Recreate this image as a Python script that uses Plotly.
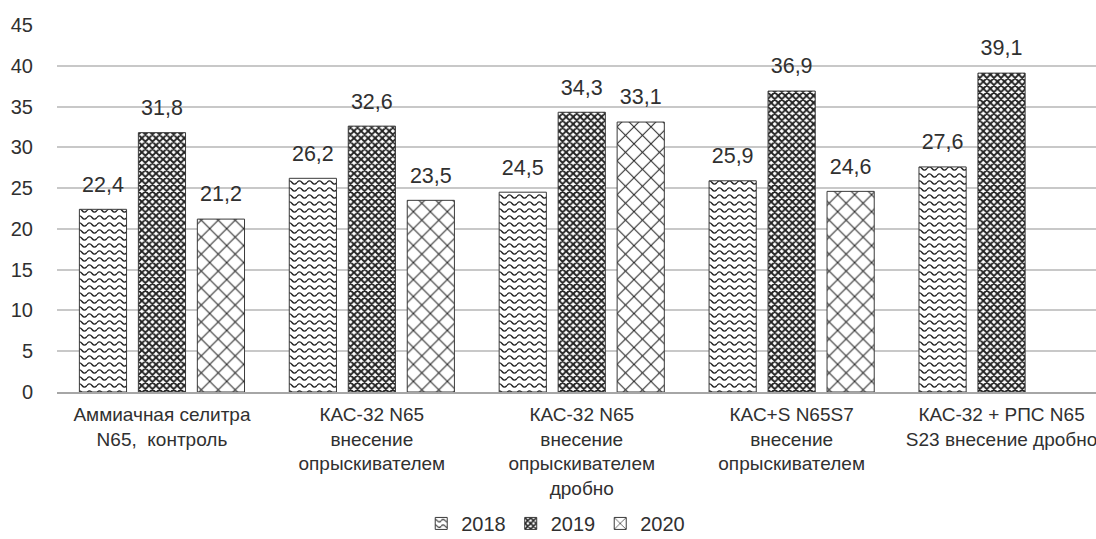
import plotly.graph_objects as go

# Yield by fertiliser treatment and year
categories = [
    "Аммиачная селитра<br>N65,  контроль",
    "КАС-32 N65<br>внесение<br>опрыскивателем",
    "КАС-32 N65<br>внесение<br>опрыскивателем<br>дробно",
    "КАС+S N65S7<br>внесение<br>опрыскивателем",
    "КАС-32 + РПС N65<br>S23 внесение дробно",
]
years = ["2018", "2019", "2020"]
values_2018 = [22.4, 26.2, 24.5, 25.9, 27.6]
values_2019 = [31.8, 32.6, 34.3, 36.9, 39.1]
values_2020 = [21.2, 23.5, 33.1, 24.6, None]
y_ticks = [0, 5, 10, 15, 20, 25, 30, 35, 40, 45]

series = [values_2018, values_2019, values_2020]
INK = "#303030"
FONT = "Liberation Sans, Arial, sans-serif"
GAP = 0.157

# fill patterns per series: (shape, size, solidity)
patterns = [
    ("-", 7, 0.2),     # re-drawn as waves by the page script below
    ("x", 5, 0.62),
    ("x", 12, 0.16),
]


def fmt(v):
    return "" if v is None else f"{v:.1f}".replace(".", ",")


fig = go.Figure()
xs = list(range(len(categories)))
for name, vals, (shape, size, sol) in zip(years, series, patterns):
    fig.add_trace(go.Bar(
        name=name, x=xs, y=vals, offsetgroup=name,
        hoverinfo="skip",
        marker=dict(
            color="white",
            line=dict(color="#3a3a3a", width=1),
            pattern=dict(shape=shape, size=size, solidity=sol,
                         fgcolor="#222222", bgcolor="white", fillmode="replace"),
        ),
    ))

# value labels, grouped the same way as the bars
for name, vals in zip(years, series):
    fig.add_trace(go.Scatter(
        x=xs, y=vals, offsetgroup=name, mode="markers+text",
        text=[fmt(v) for v in vals], textposition="top center",
        textfont=dict(size=21.5, color=INK, family=FONT),
        marker=dict(size=18, color="rgba(0,0,0,0)"),
        showlegend=False, hoverinfo="skip", cliponaxis=False,
    ))

fig.update_layout(
    width=1096, height=539,
    margin=dict(l=57, r=0, t=25, b=147, autoexpand=False),
    paper_bgcolor="white", plot_bgcolor="white",
    barmode="group", bargap=GAP, bargroupgap=0.2,
    scattermode="group", scattergap=GAP,
    font=dict(family=FONT, color=INK, size=20),
    legend=dict(orientation="h", x=0.48, xanchor="center", y=-0.305, yanchor="top",
                font=dict(size=20, color=INK), itemwidth=30, traceorder="normal"),
    showlegend=True,
)
fig.update_xaxes(
    range=[-0.5, 4.45],
    tickmode="array", tickvals=xs, ticktext=categories,
    showgrid=False, zeroline=False, ticks="", automargin=False,
    ticklabeloverflow="allow",
    tickfont=dict(size=19, color=INK), ticklabelstandoff=4,
    showline=True, linecolor="#a6a6a6", linewidth=2,
)
fig.update_yaxes(
    range=[0, 45], tickvals=y_ticks, showgrid=True, gridcolor="#c8c8c8", gridwidth=1.5,
    zeroline=False, ticks="", automargin=False,
    tickfont=dict(size=20, color=INK), ticklabelstandoff=23,
    showline=False,
)

# Turn the horizontal-line fill of the 2018 series into a wavy line fill
wave_js = """
var gd = document.getElementsByClassName('plotly-graph-div')[0];
function patternOf(el){
  if (!el) return null;
  var f = el.style.fill || el.getAttribute('fill') || '';
  var m = f.match(/#([^"')]+)/);
  return m ? document.getElementById(m[1]) : null;
}
function reshape(p){
  if (!p || p.getAttribute('data-wave')) return;
  p.setAttribute('data-wave', '1');
  p.setAttribute('width', '10');
  p.setAttribute('height', '7');
  p.querySelectorAll('rect').forEach(function(r){
    r.setAttribute('width', '10'); r.setAttribute('height', '7');
  });
  p.querySelectorAll('path').forEach(function(pa){
    pa.setAttribute('d', 'M0,3.5 Q2.5,0.3 5,3.5 T10,3.5');
    pa.setAttribute('stroke-width', '1.4px');
    pa.setAttribute('fill', 'none');
  });
}
function waves(){
  var tr = gd.querySelectorAll('.barlayer .trace')[0];
  if (tr) tr.querySelectorAll('.point path, path.point').forEach(function(el){ reshape(patternOf(el)); });
  var lg = gd.querySelectorAll('.legend .traces')[0];
  if (lg) lg.querySelectorAll('.legendpoints path').forEach(function(el){ reshape(patternOf(el)); });
}
waves();
gd.on('plotly_afterplot', waves);
"""

fig.write_html("out.html", post_script=wave_js)
